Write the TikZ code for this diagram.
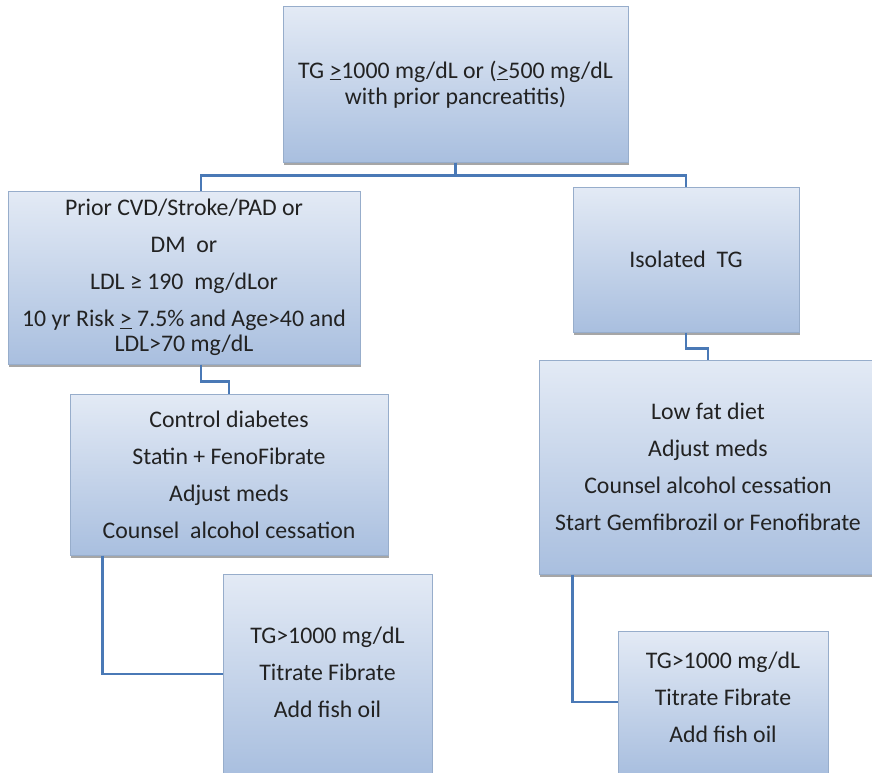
\documentclass[tikz,border=0pt]{standalone}
\usepackage{fontspec}
\setmainfont{Carlito}
\usetikzlibrary{shadows}
\definecolor{boxtop}{HTML}{E3EAF5}
\definecolor{boxbot}{HTML}{A9BFDF}
\definecolor{boxline}{HTML}{97ADCB}
\definecolor{connc}{HTML}{4A79B6}
\definecolor{txtc}{HTML}{222222}
\tikzset{
  box/.style={rectangle, draw=boxline, line width=1pt, top color=boxtop, bottom color=boxbot,
    drop shadow={shadow xshift=1pt, shadow yshift=-3pt, fill=black, opacity=0.35},
    align=center, text=txtc, inner sep=0pt, font=\fontsize{23.8}{26.5}\selectfont},
  txt/.style={align=center, text=txtc, inner sep=0pt, font=\fontsize{23.8}{26.5}\selectfont},
  conn/.style={draw=connc, line width=2.4pt}
}
\begin{document}
\begin{tikzpicture}[x=1pt,y=-1pt]
\useasboundingbox (0,0) rectangle (872,773);
\clip (0,0) rectangle (872,773);
\fill[white] (0,0) rectangle (872,773);
% boxes
\node[box, minimum width=345, minimum height=155] (top) at (455.5,84.5)
  {TG \underline{>}1000 mg/dL or (\underline{>}500 mg/dL\\with prior pancreatitis)};
\node[box, minimum width=352, minimum height=173] (left) at (184,277.5)
  {Prior CVD/Stroke/PAD or\\[10.5pt] DM\ \ or\\[10.5pt] LDL ≥ 190\ \ mg/dLor\\[10.5pt] 10 yr Risk \underline{>} 7.5\% and Age>40 and\\[-2pt] LDL>70 mg/dL};
\node[box, minimum width=226, minimum height=145] (iso) at (686,259.5) {Isolated\ \ TG};
\node[box, minimum width=318, minimum height=161] (ctrl) at (229,474.5)
  {Control diabetes\\[10.5pt] Statin + FenoFibrate\\[10.5pt] Adjust meds\\[10.5pt] Counsel\ \ alcohol cessation};
\node[box, minimum width=338, minimum height=214] (low) at (708,467)
  {Low fat diet\\[10.5pt] Adjust meds\\[10.5pt] Counsel alcohol cessation\\[10.5pt] Start Gemfibrozil or Fenofibrate};
\node[box, minimum width=209, minimum height=200] (tgl) at (327.5,674) {};
\node[txt] (tglt) at (327.5,672.5) {TG>1000 mg/dL\\[10.5pt] Titrate Fibrate\\[10.5pt] Add fish oil};
\node[box, minimum width=210, minimum height=142] (tgr) at (723,702) {};
\node[txt] (tgrt) at (723,697) {TG>1000 mg/dL\\[10.5pt] Titrate Fibrate\\[10.5pt] Add fish oil};
% connectors
\draw[conn] (top.south) -- ++(0,13) -| ([xshift=17pt]left.north);
\draw[conn] (top.south) -- ++(0,13) -| (iso.north);
\draw[conn] ([xshift=17pt]left.south) -- ++(0,17) -| (ctrl.north);
\draw[conn] ([xshift=33pt]ctrl.south west) |- (tgl.west);
\draw[conn] (iso.south) -- ++(0,16) -| (low.north);
\draw[conn] ([xshift=34pt]low.south west) |- (tgr.west);
\end{tikzpicture}
\end{document}
